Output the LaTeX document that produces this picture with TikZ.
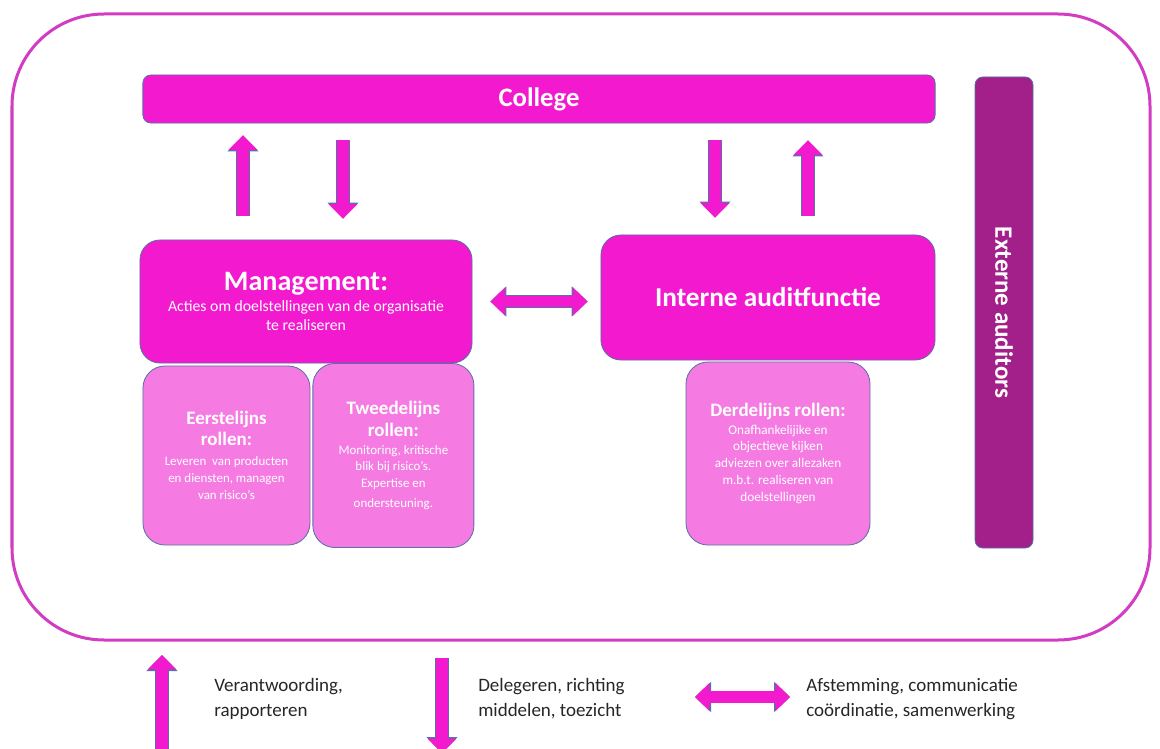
\documentclass[tikz,border=0pt]{standalone}
\usepackage{fontspec}
\setmainfont{Carlito}
\usepackage{xcolor}
\usetikzlibrary{positioning,arrows.meta}
\definecolor{MainMagenta}{HTML}{F219CF}
\definecolor{RolePink}{HTML}{F57BE2}
\definecolor{AuditPurple}{HTML}{A31F8A}
\definecolor{FrameMagenta}{HTML}{D23CC3}
\definecolor{EdgeBlue}{HTML}{5B70A6}
\definecolor{LegendGray}{HTML}{262626}
\newcommand\boxhead{\fontsize{20}{24}\selectfont\bfseries}
\newcommand\rolehead{\fontsize{13.5}{16}\selectfont\bfseries}

\begin{document}
\begin{tikzpicture}[
  x=0.025cm, y=-0.025cm,
  hbox/.style={draw=EdgeBlue, line width=0.6pt, fill=MainMagenta, text=white, align=center, inner sep=0pt, rounded corners=5mm},
  rolebox/.style={hbox, fill=RolePink, rounded corners=5.5mm, font=\fontsize{9.2}{12}\selectfont},
  blkarrow/.style={draw=MainMagenta, line width=3.1mm, -{Triangle[length=3.6mm, width=7.2mm, line width=0pt]},
    preaction={draw=EdgeBlue, line width=3.6mm, -{Triangle[length=4mm, width=7.8mm, line width=0pt]}}},
  dblarrow/.style={draw=MainMagenta, line width=2.6mm, {Triangle[length=3.6mm, width=7mm, line width=0pt]}-{Triangle[length=3.6mm, width=7mm, line width=0pt]},
    preaction={draw=EdgeBlue, line width=3.1mm, {Triangle[length=4mm, width=7.6mm, line width=0pt]}-{Triangle[length=4mm, width=7.6mm, line width=0pt]}}},
  legend/.style={anchor=west, align=left, text=LegendGray, inner sep=0pt, font=\fontsize{13.5}{17.7}\selectfont}
]
\path[use as bounding box, clip] (0,0) rectangle (1160,749);

% outer frame
\draw[FrameMagenta, line width=0.75mm, rounded corners=23mm] (12,14) rectangle (1150,640);

% boxes
\node[hbox, rounded corners=2mm, minimum width=198mm, minimum height=12mm,
  font=\fontsize{19}{23}\selectfont\bfseries] (college) at (539,99) {College};
\node[hbox, fill=AuditPurple, rounded corners=2mm, rotate=-90, minimum width=117.75mm, minimum height=14.5mm,
  font=\fontsize{17.8}{21}\selectfont\bfseries] (extern) at (1004,312.5) {Externe auditors};
\node[hbox, minimum width=83mm, minimum height=30.75mm, font=\fontsize{11.2}{13.5}\selectfont] (mgmt) at (306,301.5)
  {{\boxhead Management:}\\[2pt]Acties om doelstellingen van de organisatie\\te realiseren};
\node[hbox, minimum width=83.5mm, minimum height=31.25mm, font=\fontsize{19.4}{23}\selectfont\bfseries] (ifa) at (768,297.5)
  {Interne auditfunctie};

\node[rolebox, minimum width=41.75mm, minimum height=44.75mm] (first) at (226.5,455.5)
  {{\rolehead Eerstelijns}\\[3pt]{\rolehead rollen:}\\[2.5pt]Leveren\ \ van producten\\en diensten, managen\\van risico's};
\node[rolebox, right=0.5mm of first, minimum width=40.25mm, minimum height=46mm] (second)
  {{\rolehead Tweedelijns}\\[3.5pt]{\rolehead rollen:}\\[0.5pt]Monitoring, kritische\\blik bij risico's.\\Expertise en\\[2pt]ondersteuning.};
\node[rolebox, minimum width=46mm, minimum height=45.75mm, font=\fontsize{9.4}{12}\selectfont] (third) at (778,453.5)
  {{\rolehead Derdelijns rollen:}\\[0.5pt]Onafhankelijike en\\objectieve kijken\\adviezen over allezaken\\m.b.t. realiseren van\\doelstellingen};

% arrows college
\coordinate (up1) at (243,0);
\coordinate (down1) at (343,0);
\coordinate (down2) at (715,0);
\coordinate (up2) at (808,0);
\draw[blkarrow, shorten <=6mm, shorten >=3mm] (up1 |- mgmt.north) -- (up1 |- college.south);
\draw[blkarrow, shorten <=4.25mm, shorten >=5.25mm] (down1 |- college.south) -- (down1 |- mgmt.north);
\draw[blkarrow, shorten <=4.25mm, shorten >=4.25mm] (down2 |- college.south) -- (down2 |- ifa.north);
\draw[blkarrow, shorten <=4.75mm, shorten >=4.25mm] (up2 |- ifa.north) -- (up2 |- college.south);
\draw[dblarrow, shorten <=4.5mm, shorten >=3.25mm] (mgmt.east) -- (mgmt.east -| ifa.west);

% legend
\coordinate (lup0) at (162,775);
\coordinate (lup1) at (162,655);
\coordinate (ldown0) at (442,658);
\coordinate (ldown1) at (442,753);
\coordinate (lboth0) at (695,697);
\coordinate (lboth1) at (790,697);
\draw[blkarrow] (lup0) -- (lup1);
\draw[blkarrow] (ldown0) -- (ldown1);
\draw[dblarrow, line width=2.8mm] (lboth0) -- (lboth1);
\node[legend] (lgup) at (214,699) {Verantwoording,\\rapporteren};
\node[legend] (lgdown) at (478,699) {Delegeren, richting\\middelen, toezicht};
\node[legend] (lgboth) at (806,699) {Afstemming, communicatie\\coördinatie, samenwerking};
\end{tikzpicture}
\end{document}
